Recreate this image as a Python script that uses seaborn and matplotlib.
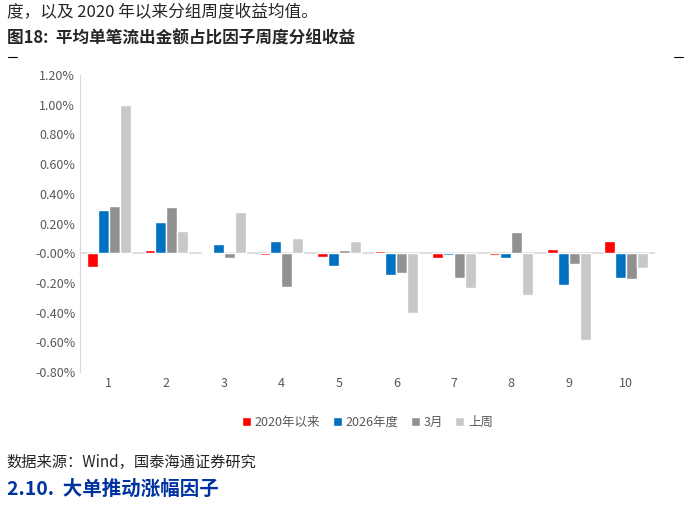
import numpy as np
import pandas as pd
import matplotlib
matplotlib.use('Agg')
import matplotlib.pyplot as plt
import seaborn as sns
from matplotlib.ticker import FuncFormatter

groups = [str(i) for i in range(1, 11)]
series_names = ['2020年以来', '2026年度', '3月', '上周']
since_2020 = [-0.095, 0.02, 0.01, -0.01, -0.025, 0.015, -0.035, -0.01, 0.025, 0.08]
year_2026 = [0.29, 0.21, 0.06, 0.08, -0.085, -0.145, -0.01, -0.035, -0.215, -0.165]
march = [0.32, 0.31, -0.035, -0.225, 0.02, -0.135, -0.165, 0.14, -0.07, -0.175]
last_week = [1.00, 0.15, 0.28, 0.10, 0.08, -0.40, -0.235, -0.285, -0.585, -0.10]
colors = ['#FF0000', '#0070C0', '#919191', '#C8C8C8']

df = pd.DataFrame({'组': groups * 4,
                   '系列': np.repeat(series_names, 10),
                   '收益': since_2020 + year_2026 + march + last_week})

sns.set_style('white')
plt.rcParams['font.family'] = ['Noto Sans CJK SC', 'DejaVu Sans']

fig = plt.figure(figsize=(6.91, 5.18), dpi=100)
ax = fig.add_axes([0.116, 0.282, 0.832, 0.573])
sns.barplot(data=df, x='组', y='收益', hue='系列', palette=colors,
            width=0.76, ax=ax, saturation=1)
ax.set_ylim(-0.8, 1.2)
ax.set_yticks(np.arange(-0.8, 1.21, 0.2))
ax.yaxis.set_major_formatter(FuncFormatter(lambda v, p: f'{v:.2f}%'))
ax.axhline(0, color='#D9D9D9', lw=1.2, zorder=0)
ax.tick_params(axis='both', labelsize=9, colors='#595959', length=0)
ax.set_xlabel('')
ax.set_ylabel('')
for s in ['top', 'right', 'bottom']:
    ax.spines[s].set_visible(False)
ax.spines['left'].set_color('#D9D9D9')
ax.legend(loc='upper center', bbox_to_anchor=(0.5, -0.11), ncol=4, frameon=False,
          fontsize=9, handlelength=0.7, handleheight=0.7, columnspacing=1.0,
          handletextpad=0.3, labelcolor='#595959')

fig.text(0.01, 0.975, '度，以及 2020 年以来分组周度收益均值。', fontsize=12, va='center')
fig.text(0.01, 0.925, '图18:  平均单笔流出金额占比因子周度分组收益', fontsize=12,
         fontweight='bold', va='center')
fig.add_artist(plt.Line2D([0.012, 0.025], [0.89, 0.89], color='black', lw=0.8))
fig.add_artist(plt.Line2D([0.975, 0.988], [0.89, 0.89], color='black', lw=0.8))
fig.text(0.01, 0.108, '数据来源：Wind，国泰海通证券研究', fontsize=11, va='center')
fig.text(0.01, 0.055, '2.10.  大单推动涨幅因子', fontsize=14, fontweight='bold',
         color='#0033A0', va='center')

fig.savefig('out.png', dpi=100)
